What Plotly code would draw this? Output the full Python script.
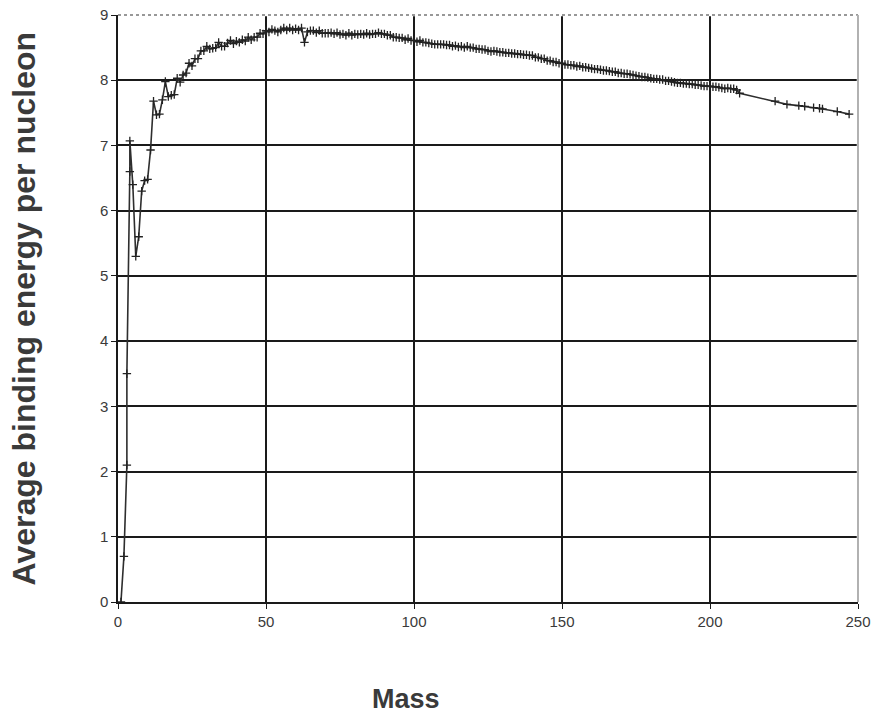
import plotly.graph_objects as go

mass = [1, 2, 3, 3, 4, 4, 5, 6, 7, 8, 9, 10, 11, 12, 13, 14, 15, 16, 17, 18, 19, 20,
        21, 22, 23, 24, 25, 26, 27, 28, 29, 30, 31, 32, 33, 34, 35, 36, 37, 38, 39, 40,
        41, 42, 43, 44, 45, 46, 47, 48, 49, 50, 51, 52, 53, 54, 55, 56, 57, 58, 59, 60,
        61, 62, 63, 64, 65, 66, 67, 68, 69, 70, 71, 72, 73, 74, 75, 76, 77, 78, 79, 80,
        81, 82, 83, 84, 85, 86, 87, 88, 89, 90, 91, 92, 93, 94, 95, 96, 97, 98, 99, 100,
        101, 102, 103, 104, 105, 106, 107, 108, 109, 110, 111, 112, 113, 114, 115, 116, 117, 118, 119, 120,
        121, 122, 123, 124, 125, 126, 127, 128, 129, 130, 131, 132, 133, 134, 135, 136, 137, 138, 139, 140,
        141, 142, 143, 144, 145, 146, 147, 148, 149, 150, 151, 152, 153, 154, 155, 156, 157, 158, 159, 160,
        161, 162, 163, 164, 165, 166, 167, 168, 169, 170, 171, 172, 173, 174, 175, 176, 177, 178, 179, 180,
        181, 182, 183, 184, 185, 186, 187, 188, 189, 190, 191, 192, 193, 194, 195, 196, 197, 198, 199, 200,
        201, 202, 203, 204, 205, 206, 207, 208, 209, 210,
        222, 226, 230, 232, 235, 237, 238, 243, 247]

binding_energy = [0.0, 0.7, 2.1, 3.5, 6.6, 7.07, 6.4, 5.3, 5.6, 6.3, 6.46, 6.48, 6.93, 7.68, 7.47, 7.48, 7.70, 7.98, 7.75, 7.77, 7.78, 8.03,
                  7.97, 8.08, 8.11, 8.26, 8.22, 8.33, 8.33, 8.45, 8.45, 8.52, 8.48, 8.49, 8.50, 8.58, 8.52, 8.52, 8.57, 8.61, 8.56, 8.60,
                  8.58, 8.62, 8.60, 8.66, 8.62, 8.66, 8.66, 8.72, 8.71, 8.76, 8.74, 8.78, 8.76, 8.74, 8.77, 8.80, 8.77, 8.80, 8.77, 8.79,
                  8.77, 8.80, 8.58, 8.74, 8.76, 8.76, 8.73, 8.76, 8.72, 8.72, 8.72, 8.73, 8.71, 8.73, 8.70, 8.71, 8.69, 8.72, 8.69, 8.71,
                  8.70, 8.71, 8.70, 8.72, 8.70, 8.71, 8.71, 8.73, 8.71, 8.71, 8.69, 8.69, 8.66, 8.66, 8.65, 8.65, 8.62, 8.64, 8.61, 8.61,
                  8.59, 8.61, 8.58, 8.58, 8.57, 8.56, 8.55, 8.55, 8.55, 8.55, 8.54, 8.54, 8.52, 8.53, 8.51, 8.52, 8.50, 8.52, 8.50, 8.50,
                  8.48, 8.48, 8.47, 8.47, 8.45, 8.44, 8.45, 8.44, 8.43, 8.43, 8.42, 8.42, 8.41, 8.41, 8.40, 8.40, 8.39, 8.39, 8.38, 8.38,
                  8.35, 8.35, 8.33, 8.33, 8.30, 8.30, 8.28, 8.28, 8.26, 8.26, 8.24, 8.24, 8.23, 8.23, 8.21, 8.22, 8.20, 8.20, 8.19, 8.18,
                  8.17, 8.17, 8.16, 8.15, 8.15, 8.14, 8.13, 8.13, 8.11, 8.11, 8.10, 8.10, 8.09, 8.08, 8.07, 8.06, 8.05, 8.05, 8.04, 8.03,
                  8.02, 8.02, 8.01, 8.01, 7.99, 7.99, 7.98, 7.97, 7.96, 7.96, 7.95, 7.95, 7.94, 7.94, 7.93, 7.93, 7.92, 7.91, 7.91, 7.91,
                  7.90, 7.90, 7.89, 7.88, 7.87, 7.88, 7.87, 7.87, 7.85, 7.80,
                  7.68, 7.63, 7.61, 7.60, 7.58, 7.57, 7.56, 7.52, 7.48]

x_ticks = [0, 50, 100, 150, 200, 250]
y_ticks = [0, 1, 2, 3, 4, 5, 6, 7, 8, 9]

fig = go.Figure()
fig.add_trace(go.Scatter(
    x=mass, y=binding_energy, mode="lines+markers",
    line=dict(color="#2e2e2e", width=1.6),
    marker=dict(symbol="cross-thin", size=6, line=dict(color="#222222", width=1.3)),
    showlegend=False,
))

axis_font = dict(family="Liberation Sans, Arial, sans-serif", size=15, color="#3a3a3a")

fig.update_layout(
    width=878, height=713,
    margin=dict(l=118, r=20, t=15, b=111),
    paper_bgcolor="white", plot_bgcolor="white",
    xaxis=dict(range=[0, 250], tickvals=x_ticks, showgrid=True, gridcolor="#1a1a1a", gridwidth=1.5,
               showline=True, linecolor="#1a1a1a", linewidth=1.5, ticks="outside", ticklen=5,
               tickcolor="#1a1a1a", tickfont=axis_font, zeroline=False, automargin=False),
    yaxis=dict(range=[0, 9], tickvals=y_ticks, showgrid=True, gridcolor="#1a1a1a", gridwidth=1.5,
               showline=True, linecolor="#1a1a1a", linewidth=1.5, ticks="outside", ticklen=5,
               tickcolor="#1a1a1a", tickfont=axis_font, zeroline=False, automargin=False),
    shapes=[
        dict(type="line", xref="paper", yref="paper", x0=0.002, x1=1.002, y0=1, y1=1,
             line=dict(color="white", width=2.5), layer="above"),
        dict(type="line", xref="paper", yref="paper", x0=0, x1=1, y0=1, y1=1,
             line=dict(color="#777777", width=1.3, dash="dot"), layer="above"),
        dict(type="line", xref="paper", yref="paper", x0=1, x1=1, y0=0.002, y1=1,
             line=dict(color="white", width=2.5), layer="above"),
        dict(type="line", xref="paper", yref="paper", x0=1, x1=1, y0=0, y1=1,
             line=dict(color="#888888", width=1.3), layer="above"),
    ],
    annotations=[
        dict(text="<b>Average binding energy per nucleon</b>", xref="paper", yref="paper",
             x=(23 - 118) / 740, y=0.5, xanchor="center", yanchor="middle", textangle=-90, showarrow=False,
             font=dict(family="Liberation Sans, Arial, sans-serif", size=32, color="#3a3a3a")),
        dict(text="<b>Mass</b>", xref="paper", yref="paper",
             x=(406 - 118) / 740, y=-(699 - 602) / 587, xanchor="center", yanchor="middle", showarrow=False,
             font=dict(family="Liberation Sans, Arial, sans-serif", size=27, color="#3a3a3a")),
    ],
)

fig.write_html("out.html", config={"displayModeBar": False},
               post_script="document.body.style.margin='0';document.body.style.overflow='hidden';")
